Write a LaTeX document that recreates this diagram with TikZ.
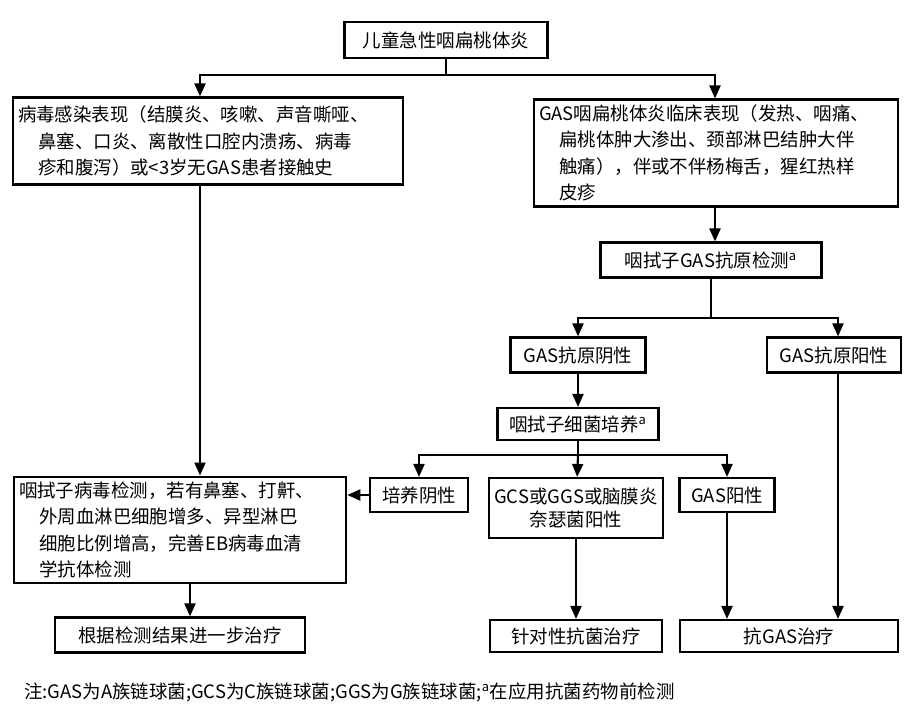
\documentclass[tikz,border=0pt]{standalone}
\usepackage{fontspec}
\setmainfont{Noto Sans CJK SC}
\usetikzlibrary{arrows.meta}
\tikzset{box/.style={rectangle, draw, line width=1.2pt, inner sep=3pt, font=\fontsize{10.5}{15}\selectfont},
  line/.style={draw, line width=1.2pt, -{Triangle[length=2.6mm,width=2.2mm]}},
  seg/.style={draw, line width=1.2pt}}
\newcommand{\ind}{\hspace*{1.1em}}
\begin{document}
\begin{tikzpicture}[x=0.02cm, y=-0.02cm]
\useasboundingbox (0,0) rectangle (922,715);
\node [box, minimum width=203*0.02cm, minimum height=36*0.02cm] (root) at (446,40) {儿童急性咽扁桃体炎};
\node [box, text width=380*0.02cm, minimum height=87*0.02cm, align=left] (virus) at (208,141) {病毒感染表现（结膜炎、咳嗽、声音嘶哑、\\ \ind 鼻塞、口炎、离散性口腔内溃疡、病毒\\ \ind 疹和腹泻）或<3岁无GAS患者接触史};
\node [box, text width=354*0.02cm, minimum height=104*0.02cm, align=left] (clinic) at (716,153) {GAS咽扁桃体炎临床表现（发热、咽痛、\\ \ind 扁桃体肿大渗出、颈部淋巴结肿大伴\\ \ind 触痛），伴或不伴杨梅舌，猩红热样\\ \ind 皮疹};
\node [box, minimum width=221*0.02cm, minimum height=35*0.02cm] (antigen) at (711,260) {咽拭子GAS抗原检测$^{\mathrm a}$};
\node [box, minimum width=135*0.02cm, minimum height=35*0.02cm] (agneg) at (578,355) {GAS抗原阴性};
\node [box, minimum width=134*0.02cm, minimum height=35*0.02cm] (agpos) at (834,355) {GAS抗原阳性};
\node [box, minimum width=161*0.02cm, minimum height=32*0.02cm] (culture) at (578,424) {咽拭子细菌培养$^{\mathrm a}$};
\node [box, minimum width=98*0.02cm, minimum height=34*0.02cm] (cneg) at (419,495) {培养阴性};
\node [box, minimum width=172*0.02cm, minimum height=60*0.02cm] (gcs) at (576,508) {\shortstack{GCS或GGS或脑膜炎\\奈瑟菌阳性}};
\node [box, minimum width=95*0.02cm, minimum height=34*0.02cm] (cpos) at (727,495) {GAS阳性};
\node [box, text width=322*0.02cm, minimum height=105*0.02cm, align=left] (swab) at (180,530) {咽拭子病毒检测，若有鼻塞、打鼾、\\ \ind 外周血淋巴细胞增多、异型淋巴\\ \ind 细胞比例增高，完善EB病毒血清\\ \ind 学抗体检测};
\node [box, minimum width=250*0.02cm, minimum height=35*0.02cm] (further) at (180,635) {根据检测结果进一步治疗};
\node [box, minimum width=172*0.02cm, minimum height=32*0.02cm] (target) at (576,636) {针对性抗菌治疗};
\node [box, minimum width=218*0.02cm, minimum height=32*0.02cm] (anti) at (789,636) {抗GAS治疗};
\node [anchor=west, font=\fontsize{10.5}{13}\selectfont] (note) at (18,692) {注:GAS为A族链球菌;GCS为C族链球菌;GGS为G族链球菌;$^{\mathrm a}$在应用抗菌药物前检测};
% connectors
\coordinate (j1) at (446,75);
\coordinate (j2) at (711,318);
\coordinate (j3) at (578,455);
\path [seg] (root) -- (j1);
\path [line] (j1) -| (virus.north -| 200,0);
\path [line] (j1) -| (clinic.north -| 715,0);
\path [line] (virus.south -| 200,0) -- (swab.north -| 200,0);
\path [line] (clinic.south -| 715,0) -- (antigen.north -| 715,0);
\path [seg] (antigen) -- (j2);
\path [line] (j2) -| (agneg);
\path [line] (j2) -| (agpos.north -| 838,0);
\path [line] (agneg) -- (culture);
\path [seg] (culture) -- (j3);
\path [line] (j3) -| (cneg);
\path [line] (j3) -- (gcs);
\path [line] (j3) -| (cpos);
\path [line] (cneg) -- (swab.east |- cneg);
\path [line] (swab.south -| 190,0) -- (further.north -| 190,0);
\path [line] (gcs) -- (target);
\path [line] (cpos) -- (anti.north -| cpos);
\path [line] (agpos.south -| 838,0) -- (anti.north -| 838,0);
\end{tikzpicture}
\end{document}
